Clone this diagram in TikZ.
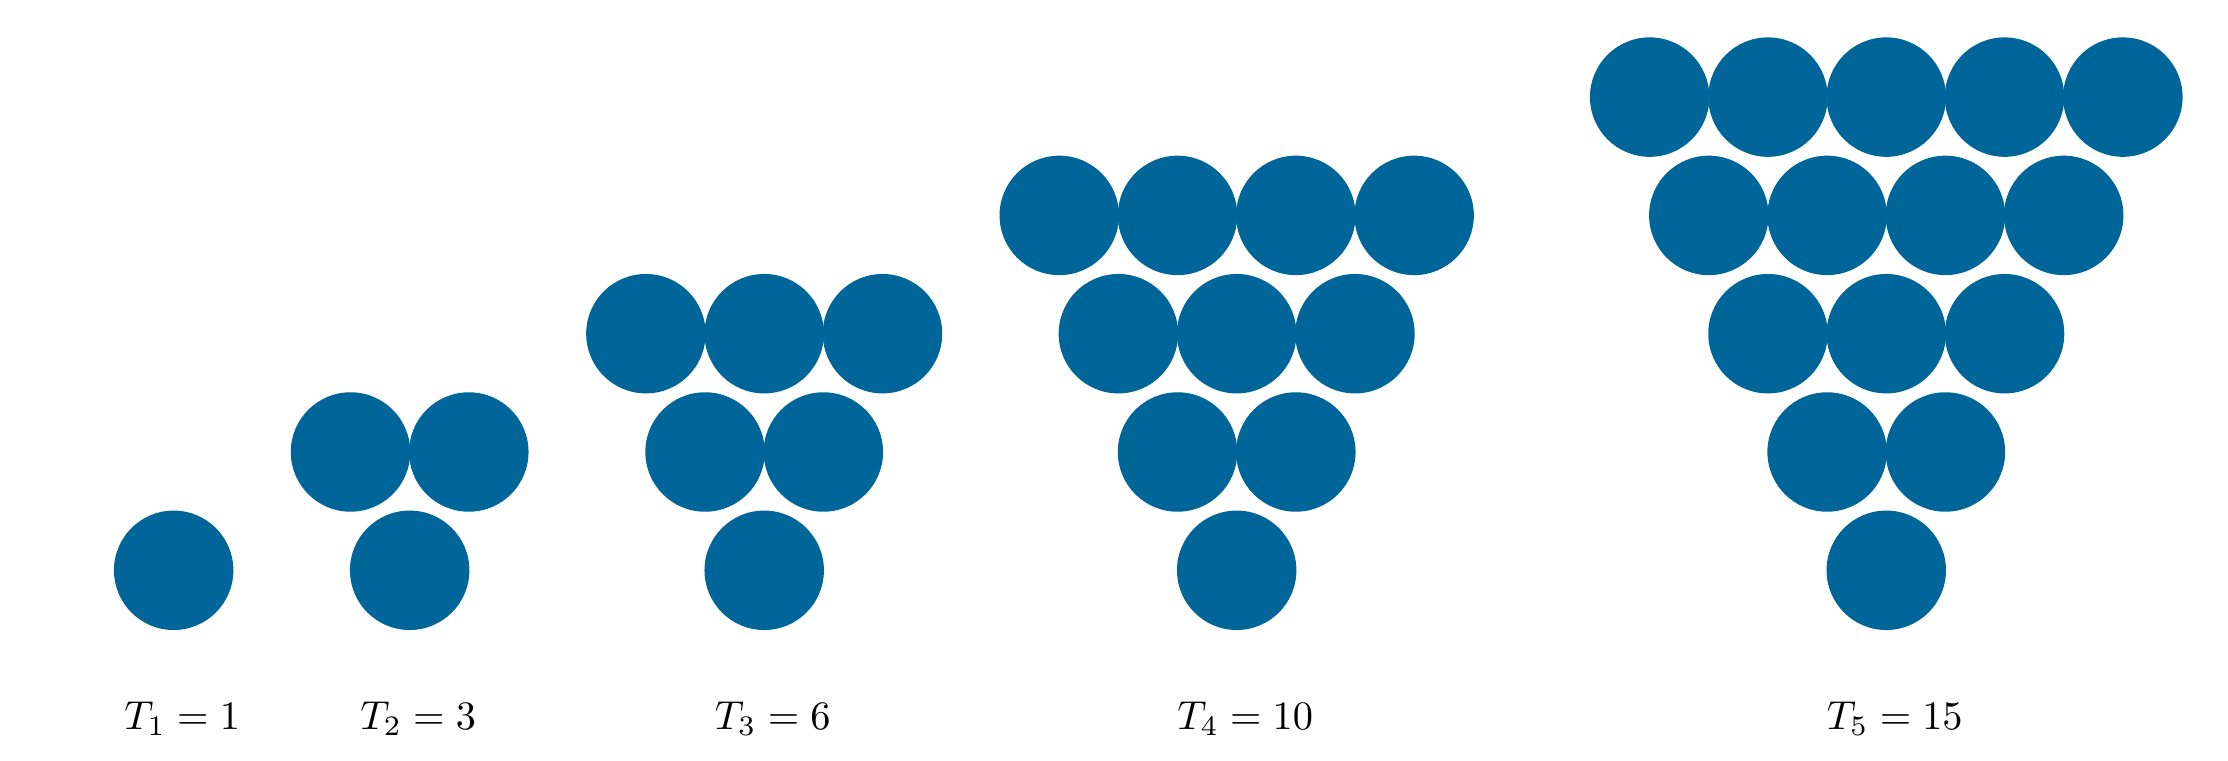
\documentclass[tikz,border=0pt]{standalone}
\usepackage{amsmath}
\usepackage{tikz}
\usetikzlibrary{positioning}
\definecolor{dotblue}{HTML}{006699}

\begin{document}
\begin{tikzpicture}[x=1.03cm, y=1.03cm]
        \useasboundingbox (0,0) rectangle (18.834, 6.433);

        % triangles: apex x / number of rows
        \foreach \ax/\rows in {1.468/1, 3.463/2, 6.460/3, 10.454/4, 15.945/5}{
            \foreach \r in {1,...,\rows}{
                \foreach \c in {1,...,\r}{
                    \fill[dotblue] ({\ax - (\r-1)/2 + \c - 1}, {1.612 + \r - 1}) circle (0.52cm);
                }
            }
        }

        % labels
        \node[anchor=base] (lab1) at (1.540, 0.268) {$T_1 = 1$};
        \node[anchor=base] (lab2) at (3.535, 0.268) {$T_2 = 3$};
        \node[anchor=base] (lab3) at (6.532, 0.268) {$T_3 = 6$};
        \node[anchor=base] (lab4) at (10.526, 0.268) {$T_4 = 10$};
        \node[anchor=base] (lab5) at (16.017, 0.268) {$T_5 = 15$};
    \end{tikzpicture}
\end{document}
